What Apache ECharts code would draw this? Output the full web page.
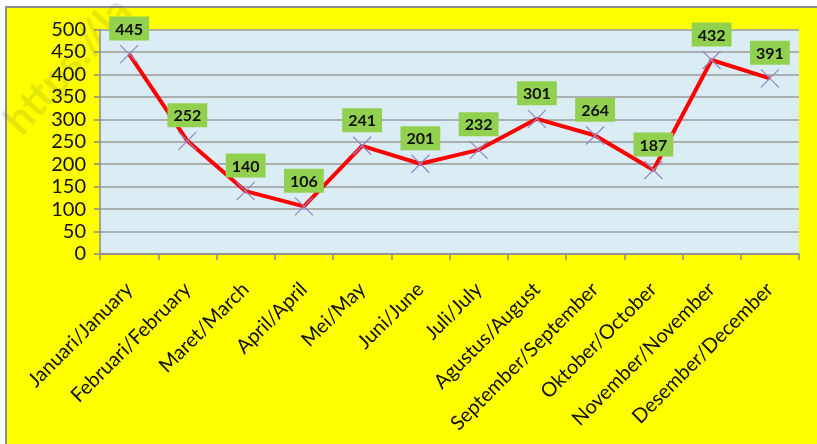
<!DOCTYPE html>
<html>
<head>
<meta charset="utf-8">
<script src="https://cdn.jsdelivr.net/npm/echarts@6/dist/echarts.min.js"></script>
<style>
  html, body { margin: 0; padding: 0; background: #fff; }
  #chart { width: 817px; height: 444px; }
</style>
</head>
<body>
<div id="chart"></div>
<script>
const months = [
  'Januari/January', 'Februari/February', 'Maret/March', 'April/April',
  'Mei/May', 'Juni/June', 'Juli/July', 'Agustus/August',
  'September/September', 'Oktober/October', 'November/November', 'Desember/December'
];
const values = [445, 252, 140, 106, 241, 201, 232, 301, 264, 187, 432, 391];

const chart = echarts.init(document.getElementById('chart'));

const option = {
  backgroundColor: '#fff',
  animation: false,
  textStyle: { fontFamily: 'Lato' },
  graphic: [
    {
      type: 'rect',
      z: -10,
      shape: { x: 6, y: 7, width: 830, height: 460 },
      style: { fill: '#ffff00', stroke: '#8c8c8c', lineWidth: 2 }
    },
    {
      // faint watermark in the top-left corner, sits under the plot area
      type: 'text',
      z: -5,
      x: 12,
      y: 128,
      rotation: 0.84,
      silent: true,
      style: {
        text: 'https://la',
        fontSize: 42,
        fontWeight: 'bold',
        fontFamily: 'Lato',
        fill: 'rgba(60,60,60,0.13)',
        textVerticalAlign: 'middle'
      }
    }
  ],
  grid: {
    left: 100,
    top: 29.5,
    right: 18,
    bottom: 190,
    show: true,
    backgroundColor: '#dbedf4',
    borderWidth: 0
  },
  xAxis: {
    type: 'category',
    data: months,
    boundaryGap: true,
    axisLine: { lineStyle: { color: '#8c8c8c', width: 1.5 } },
    axisTick: { show: true, length: 6, lineStyle: { color: '#8c8c8c', width: 1.5 } },
    axisLabel: {
      rotate: 45,
      interval: 0,
      margin: 32,
      fontSize: 20,
      color: '#111'
    }
  },
  yAxis: {
    type: 'value',
    min: 0,
    max: 500,
    interval: 50,
    axisLine: { show: true, lineStyle: { color: '#8c8c8c', width: 1.5 } },
    axisTick: { show: true, length: 6, lineStyle: { color: '#8c8c8c', width: 1.5 } },
    axisLabel: { fontSize: 20, color: '#111', margin: 14 },
    splitLine: { lineStyle: { color: '#9a9a9a', width: 1.5 } }
  },
  series: [
    {
      type: 'line',
      data: values,
      symbol: 'path://M0,0L10,10M10,0L0,10',
      symbolSize: 18,
      itemStyle: { color: 'transparent', borderColor: '#9585c8', borderWidth: 1.2 },
      lineStyle: { color: '#ff0000', width: 4 },
      label: {
        show: true,
        position: 'top',
        distance: 4,
        fontSize: 16,
        fontWeight: 'bold',
        color: '#111',
        backgroundColor: '#92d050',
        padding: [5, 6, 3, 6],
        fontFamily: 'Lato'
      }
    }
  ]
};

chart.setOption(option);
</script>
</body>
</html>
